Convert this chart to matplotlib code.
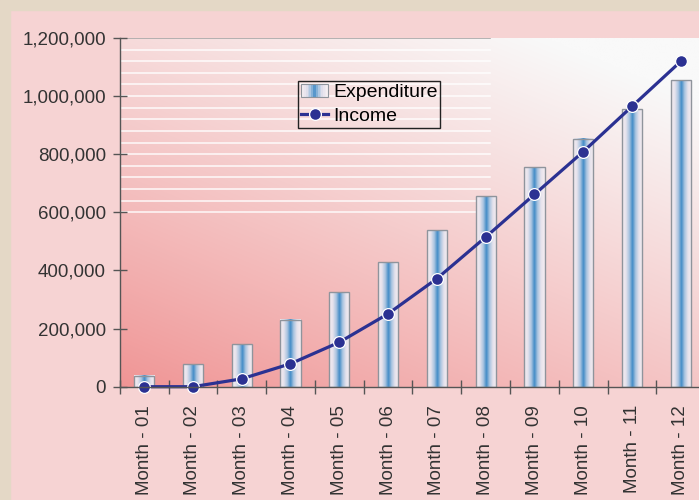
import numpy as np
import matplotlib
matplotlib.use("Agg")
import matplotlib.pyplot as plt
from matplotlib.patches import Rectangle
from matplotlib.lines import Line2D
from matplotlib.legend_handler import HandlerBase
from matplotlib.colors import LinearSegmentedColormap, to_rgb

# ---- data ----
months = ["Month - 01", "Month - 02", "Month - 03", "Month - 04", "Month - 05", "Month - 06",
          "Month - 07", "Month - 08", "Month - 09", "Month - 10", "Month - 11", "Month - 12"]
expenditure = [38000, 77000, 147000, 231000, 325000, 428000,
               539000, 655000, 755000, 854000, 954000, 1054000]
income = [0, 0, 27000, 79000, 153000, 251000,
          372000, 515000, 662000, 809000, 965000, 1120000]
yticks = [0, 200000, 400000, 600000, 800000, 1000000, 1200000]

plt.rcParams['font.family'] = ['Liberation Sans', 'DejaVu Sans']

W, H = 699, 500
fig = plt.figure(figsize=(W / 100, H / 100), dpi=100)
fig.patch.set_facecolor('#f6d3d3')
# beige frame
fig.add_artist(Rectangle((0, 0), 9.5 / W, 1, transform=fig.transFigure,
                         color='#e4d8c6', zorder=-10))
fig.add_artist(Rectangle((0, 1 - 9.5 / H), 1, 9.5 / H, transform=fig.transFigure,
                         color='#e4d8c6', zorder=-10))

ax_left = 119.7 / W
ax_bottom = (H - 386.7) / H
ax_h = (386.7 - 38.0) / H
ax_w = (12 * 48.8) / W
ax = fig.add_axes([ax_left, ax_bottom, ax_w, ax_h])
ax.set_facecolor('none')

# background gradient
nx, ny = 200, 200
gx, gy = np.meshgrid(np.linspace(0, 1, nx), np.linspace(0, 1, ny))
f = np.clip((0.55 * gx + 0.8 * gy) / 1.2, 0, 1) ** 0.9
c0 = np.array(to_rgb('#f09494'))
c1 = np.array(to_rgb('#f9f9f9'))
img = c0[None, None, :] * (1 - f[..., None]) + c1[None, None, :] * f[..., None]
ax.imshow(img, extent=[0, 1, 0, 1], transform=ax.transAxes, origin='lower',
          aspect='auto', zorder=0, interpolation='bilinear')

# decorative white lines
for yv in np.arange(600000, 1160001, 40000):
    ax.axhline(yv, xmin=0, xmax=0.632, color='white', lw=1.1, alpha=0.9, zorder=1)
ax.axhline(1200000, xmin=0, xmax=0.632, color='#a8a8a8', lw=1.2, zorder=1)

# bars with gradient
bar_cmap = LinearSegmentedColormap.from_list(
    'bar', [(0.0, '#f5eef2'), (0.18, '#e6e2ec'), (0.35, '#a9c4e0'), (0.5, '#3f8ac6'),
            (0.65, '#a9c4e0'), (0.82, '#e6e2ec'), (1.0, '#f5eef2')])
grad = np.linspace(0, 1, 64)[None, :]
bw = 0.41
x = np.arange(len(months))
for xi, v in zip(x, expenditure):
    ax.imshow(grad, extent=[xi - bw / 2, xi + bw / 2, 0, v], cmap=bar_cmap,
              aspect='auto', zorder=2, interpolation='bilinear')
ax.bar(x, expenditure, width=bw, fill=False, edgecolor='#8f949c', lw=1.0, zorder=3)

# income line
line_color = '#2b3192'
ax.plot(x, income, color=line_color, lw=2.3, marker='o', ms=8.5,
        mfc=line_color, mec='white', mew=0.9, zorder=4, clip_on=False)

ax.set_xlim(-0.5, 11.5)
ax.set_ylim(0, 1200000)

# spines
for s in ['top', 'right']:
    ax.spines[s].set_visible(False)
for s in ['left', 'bottom']:
    ax.spines[s].set_color('#555555')
    ax.spines[s].set_linewidth(1.0)
    ax.spines[s].set_zorder(5)

ax.set_yticks(yticks)
ax.set_yticklabels([f"{v:,}" for v in yticks])
ax.tick_params(axis='y', direction='inout', length=10, width=1.0, color='#555555',
               labelsize=13.5, labelcolor='#333333', pad=5)

ax.set_xticks(np.arange(-0.5, 12.0, 1.0))
ax.set_xticklabels([])
ax.tick_params(axis='x', which='major', direction='inout', length=10, width=1.0,
               color='#555555')
ax.set_xticks(x, minor=True)
ax.set_xticklabels(months, minor=True, rotation=90, fontsize=13.5, color='#333333')
ax.tick_params(axis='x', which='minor', length=0, pad=13)


class GradientHandler(HandlerBase):
    def create_artists(self, legend, orig_handle, xdescent, ydescent, width, height,
                       fontsize, trans):
        arts = []
        n = 16
        cols = bar_cmap(np.linspace(0, 1, n))
        for i in range(n):
            r = Rectangle((-xdescent + i * width / n, -ydescent), width / n, height,
                          facecolor=cols[i], edgecolor='none', transform=trans)
            arts.append(r)
        arts.append(Rectangle((-xdescent, -ydescent), width, height, facecolor='none',
                              edgecolor='#8f949c', lw=0.8, transform=trans))
        return arts


bar_handle = Rectangle((0, 0), 1, 1)
line_handle = Line2D([], [], color=line_color, lw=2.3, marker='o', ms=8.5,
                     mfc=line_color, mec='white', mew=0.9)
leg = fig.legend([bar_handle, line_handle], ['Expenditure', 'Income'],
                 handler_map={Rectangle: GradientHandler()},
                 loc='upper left', bbox_to_anchor=(298 / W, 1 - 80.7 / H),
                 bbox_transform=fig.transFigure, borderaxespad=0, fontsize=14,
                 frameon=True, fancybox=False, framealpha=1, edgecolor='#222222',
                 facecolor='none', handlelength=1.4, handletextpad=0.25,
                 labelspacing=0.3, borderpad=0.15)
leg.get_frame().set_linewidth(1.0)

fig.savefig('out.png', dpi=100, facecolor=fig.get_facecolor())
